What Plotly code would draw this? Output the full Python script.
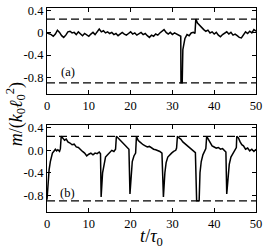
import plotly.graph_objects as go
from plotly.subplots import make_subplots

# Panel (a)
t_a = [0, 0.5, 1, 1.5, 2, 2.5, 3, 3.5, 4, 4.5, 5, 5.5, 6, 6.5, 7, 7.5, 8, 8.5, 9, 9.5,
       10, 10.5, 11, 11.5, 12, 12.5, 13, 13.5, 14, 14.5, 15, 15.5, 16, 16.5, 17, 17.5,
       18, 18.5, 19, 19.5, 20, 20.5, 21, 21.5, 22, 22.5, 23, 23.5, 24, 24.5, 25, 25.5,
       26, 26.5, 27, 27.5, 28, 28.5, 29, 29.5, 30, 30.5, 31, 31.5, 32,
       32.05, 32.35, 32.5, 32.8, 33, 33.5, 34, 34.5, 35, 35.4, 35.6, 36, 36.5, 37, 37.5,
       38, 38.5, 39, 39.5, 40, 40.5, 41, 41.5, 42, 42.5, 43, 43.5, 44, 44.5, 45, 45.5,
       46, 46.5, 47, 47.5, 48, 48.5, 49, 49.5, 50]
m_a = [0.00, -0.01, -0.03, -0.06, -0.02, 0.05, 0.01, -0.05, -0.08, -0.04, 0.02, 0.03, 0.00, 0.01, -0.03, 0.02, -0.02, -0.05, -0.01, -0.04,
       -0.06, -0.02, 0.01, -0.03, 0.02, 0.07, 0.02, 0.04, 0.00, 0.02, -0.01, 0.01, -0.03, -0.01, -0.05, -0.02,
       0.01, -0.02, -0.04, -0.01, 0.02, -0.02, 0.00, -0.04, -0.02, 0.01, -0.03, -0.01, -0.05, -0.08, -0.04, -0.06,
       -0.02, -0.04, 0.00, 0.03, 0.06, 0.01, -0.02, 0.01, -0.03, 0.00, -0.02, -0.05, -0.06,
       -0.90, -0.90, -0.30, -0.15, -0.10, -0.03, -0.05, 0.00, 0.01, -0.01, 0.25, 0.18, 0.14, 0.09, 0.06,
       0.03, 0.05, 0.00, 0.02, -0.02, 0.01, -0.04, -0.07, -0.03, -0.01, 0.02, -0.02, 0.01, -0.04, -0.02, -0.05,
       -0.08, -0.09, -0.03, 0.02, -0.01, 0.03, 0.00, 0.06, 0.03]

# Panel (b)
t_b = [0, 0.2, 0.5, 0.8, 1, 1.3, 1.6, 2, 2.3, 2.6, 3, 3.2, 3.4, 3.8, 4.2, 4.6, 5, 5.5, 6, 6.5,
       7, 7.5, 8, 8.5, 9, 9.5, 10, 10.5, 11, 11.5, 12, 12.5, 12.8, 12.95, 13.3, 13.7, 14, 14.5,
       15, 15.5, 16, 16.4, 16.6, 17, 17.5, 18, 18.5, 19, 19.4, 19.6, 19.85, 20.1, 20.4, 20.8,
       21.2, 21.4, 21.8, 22.2, 22.6, 23, 23.5, 24, 24.5, 25, 25.5, 26, 26.5, 27, 27.5, 27.85,
       28.2, 28.5, 28.9, 29.3, 29.8, 30.3, 30.8, 31, 31.2, 31.6, 32, 32.5, 33, 33.5, 34, 34.5,
       35, 35.5, 35.8, 36.4, 36.6, 36.9, 37.3, 37.7, 38, 38.2, 38.6, 39, 39.5, 40, 40.5, 41,
       41.5, 42, 42.5, 42.8, 43, 43.3, 43.6, 44, 44.5, 45, 45.3, 45.4, 45.8, 46.2, 46.6, 47,
       47.5, 48, 48.5, 49, 49.5, 50]
m_b = [-0.88, -0.55, -0.35, -0.20, -0.12, -0.05, -0.02, 0.02, -0.01, 0.01, -0.02, 0.03, 0.25, 0.22, 0.18, 0.20, 0.15, 0.13, 0.10, 0.11,
       0.06, 0.05, 0.01, -0.02, -0.05, -0.10, -0.07, -0.05, -0.08, -0.05, -0.06, -0.03, -0.06, -0.83, -0.40, -0.20, -0.12, -0.08,
       -0.04, 0.00, -0.02, 0.02, 0.25, 0.22, 0.18, 0.14, 0.12, 0.08, 0.05, 0.02, -0.78, -0.40, -0.20, -0.10,
       -0.05, 0.25, 0.18, 0.15, 0.12, 0.10, 0.08, 0.06, 0.07, 0.04, 0.02, 0.01, 0.00, -0.02, -0.05, -0.83,
       -0.40, -0.22, -0.12, -0.08, -0.05, -0.02, 0.00, 0.04, 0.25, 0.22, 0.20, 0.15, 0.12, 0.08, 0.05, 0.03,
       0.00, -0.04, -0.90, -0.90, -0.40, -0.20, -0.08, -0.02, 0.03, 0.25, 0.20, 0.15, 0.08, 0.06, 0.04, 0.05,
       0.02, 0.03, 0.00, -0.03, -0.78, -0.45, -0.25, -0.12, -0.05, 0.00, 0.05, 0.25, 0.22, 0.15, 0.10, 0.08,
       0.02, 0.04, -0.01, 0.02, -0.02, 0.02]

t_ref = [0, 50]
upper_level = [0.25, 0.25]
lower_level = [-0.9, -0.9]

xticks = [0, 10, 20, 30, 40, 50]
xtick_text = ["0", "10", "20", "30", "40", "50"]
yticks = [0.4, 0.0, -0.4, -0.8]
ytick_text_a = ["0.4", "0", "-0.4", "-0.8"]
ytick_text_b = ["0.4", "0.0", "-0.4", "-0.8"]

FONT = "Liberation Serif"

fig = make_subplots(rows=2, cols=1)

for row, (tt, mm) in enumerate([(t_a, m_a), (t_b, m_b)], start=1):
    fig.add_trace(go.Scatter(x=tt, y=mm, mode="lines", line=dict(color="black", width=1.5),
                             showlegend=False), row=row, col=1)
    for lvl in (upper_level, lower_level):
        fig.add_trace(go.Scatter(x=t_ref, y=lvl, mode="lines",
                                 line=dict(color="black", width=1.3, dash="8px,4px"),
                                 showlegend=False), row=row, col=1)

axis_common = dict(showline=True, linecolor="black", linewidth=1.2, mirror="ticks",
                   ticks="inside", ticklen=4, tickwidth=1, tickcolor="black",
                   showgrid=False, zeroline=False,
                   tickfont=dict(family=FONT, size=12.5, color="black"))

fig.update_xaxes(range=[0, 50], tickvals=xticks, ticktext=xtick_text, **axis_common)
fig.update_yaxes(range=[-1.1, 0.45], tickvals=yticks, **axis_common)
fig.update_yaxes(ticktext=ytick_text_a, row=1, col=1)
fig.update_yaxes(ticktext=ytick_text_b, row=2, col=1)

fig.update_layout(
    width=266, height=249,
    margin=dict(l=47, r=8, t=4, b=36),
    plot_bgcolor="white", paper_bgcolor="white",
    font=dict(family=FONT, color="black"),
    xaxis=dict(domain=[0, 1]),
    yaxis=dict(domain=[0.579, 1.0]),
    xaxis2=dict(domain=[0, 1]),
    yaxis2=dict(domain=[0.0, 0.426]),
)
fig.update_xaxes(title=dict(text="<i>t</i>/<i>τ</i><sub>0</sub>", font=dict(family=FONT, size=18),
                            standoff=1), row=2, col=1)

fig.add_annotation(text="(a)", x=5, y=-0.71, xref="x", yref="y", showarrow=False,
                   font=dict(family=FONT, size=12.5))
fig.add_annotation(text="(b)", x=5, y=-0.77, xref="x2", yref="y2", showarrow=False,
                   font=dict(family=FONT, size=12.5))
fig.add_annotation(text="<i>m</i>/(<i>k</i><sub>0</sub><i>ℓ</i><sub>0</sub><sup>2</sup>)",
                   xref="paper", yref="paper", x=-0.152, y=0.48, xanchor="center", yanchor="middle",
                   textangle=-90, showarrow=False, font=dict(family=FONT, size=18))

fig.write_html("out.html", config={"displayModeBar": False},
               post_script="document.body.style.margin='0';")
